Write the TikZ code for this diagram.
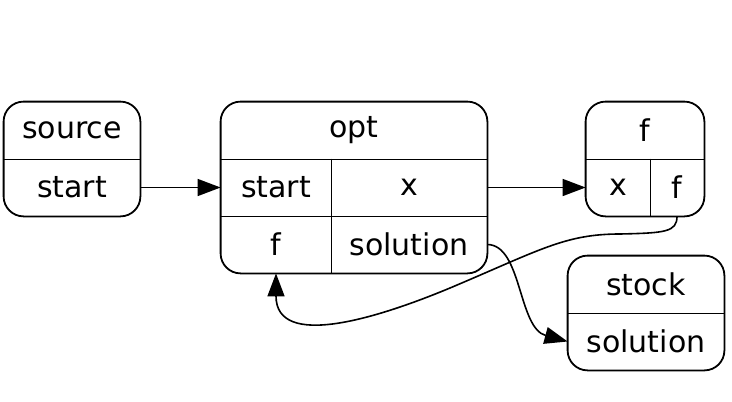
\documentclass[tikz,border=0pt]{standalone}
\usepackage{fontspec}
\setmainfont{DejaVu Sans}
\usetikzlibrary{arrows.meta}
\tikzset{
  cell/.style={inner sep=0pt, minimum height=28.5pt, font=\fontsize{15}{18}\selectfont},
  rec/.style={line width=0.9pt, rounded corners=10pt},
  arr/.style={line width=0.8pt, -{Triangle[length=11.5pt,width=8.5pt]}}
}
\begin{document}
\begin{tikzpicture}[x=0.5pt, y=-0.5pt]
	\useasboundingbox (0,0) rectangle (732,401);

	\node[cell, minimum width=68pt] (srcTitle) at (72,130.5) {source};
	\node[cell, minimum width=68pt] (srcStart) at (72,187.5) {start};

	\node[cell, minimum width=133pt] (optTitle) at (354,130.5) {opt};
	\node[cell, minimum width=55pt] (optStart) at (276,187.5) {start};
	\node[cell, minimum width=78pt] (optX) at (409,187.5) {x};
	\node[cell, minimum width=55pt] (optF) at (276,244.5) {f};
	\node[cell, minimum width=78pt] (optSol) at (409,244.5) {solution};

	\node[cell, minimum width=59pt] (fTitle) at (645,130.5) {f};
	\node[cell, minimum width=32pt] (fX) at (618,187.5) {x};
	\node[cell, minimum width=27pt] (fF) at (677,187.5) {f};

	\node[cell, minimum width=78pt] (stkTitle) at (646,284.5) {stock};
	\node[cell, minimum width=78pt] (stkSol) at (646,341.5) {solution};

	\draw[rec] (srcTitle.north west) rectangle (srcStart.south east);
	\draw[line width=0.9pt] (srcTitle.south west) -- (srcTitle.south east);

	\draw[rec] (optTitle.north west) rectangle (optSol.south east);
	\draw[line width=0.9pt] (optTitle.south west) -- (optTitle.south east);
	\draw[line width=0.9pt] (optStart.south west) -- (optX.south east);
	\draw[line width=0.9pt] (optStart.north east) -- (optF.south east);

	\draw[rec] (fTitle.north west) rectangle (fF.south east);
	\draw[line width=0.9pt] (fTitle.south west) -- (fTitle.south east);
	\draw[line width=0.9pt] (fX.north east) -- (fX.south east);

	\draw[rec] (stkTitle.north west) rectangle (stkSol.south east);
	\draw[line width=0.9pt] (stkTitle.south west) -- (stkTitle.south east);

	\draw[arr] (srcStart.east) -- (optStart.west);
	\draw[arr] (optX.east) -- (fX.west);
	\draw[arr] (optSol.east) .. controls (522,245) and (518,328) .. (stkSol.west);
	\draw[arr] (fF.south) .. controls (677,232) and (665,233) .. (620,234)
		.. controls (565,234) and (540,250) .. (450,288)
		.. controls (378,318) and (276,350) .. (optF.south);
\end{tikzpicture}
\end{document}
